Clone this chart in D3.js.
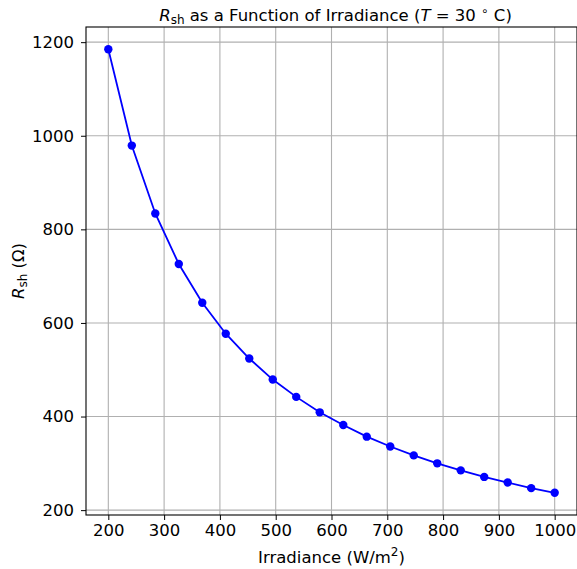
<!DOCTYPE html>
<html>
<head>
<meta charset="utf-8">
<script src="https://cdn.jsdelivr.net/npm/d3@7"></script>
<style>
  body { margin: 0; background: #fff; }
  svg { font-family: "DejaVu Sans", sans-serif; }
</style>
</head>
<body>
<svg id="chart" width="577" height="569"></svg>
<script>
// irradiance (W/m^2) and shunt resistance (ohm)
var irradiance = [200, 242.1, 284.2, 326.3, 368.4, 410.5, 452.6, 494.7, 536.8, 578.9,
                  621.1, 663.2, 705.3, 747.4, 789.5, 831.6, 873.7, 915.8, 957.9, 1000];
var rsh = [1185, 979, 834, 726, 643, 577, 524, 479, 442, 409,
           382, 357, 336, 317, 300, 285, 271, 259, 247, 237];
var xTicks = [200, 300, 400, 500, 600, 700, 800, 900, 1000];
var yTicks = [200, 400, 600, 800, 1000, 1200];

var data = irradiance.map(function (g, i) { return { x: g, y: rsh[i] }; });

var fs = 16.5;
var margin = { top: 27, right: 0, bottom: 54, left: 86 };
var svg = d3.select("#chart");
var W = +svg.attr("width"), H = +svg.attr("height");
var w = W - margin.left - margin.right,
    h = H - margin.top - margin.bottom;

// matplotlib style 5% padding
var xPad = (d3.max(irradiance) - d3.min(irradiance)) * 0.05;
var yPad = (d3.max(rsh) - d3.min(rsh)) * 0.05;
var x = d3.scaleLinear()
    .domain([d3.min(irradiance) - xPad, d3.max(irradiance) + xPad])
    .range([0, w]);
var y = d3.scaleLinear()
    .domain([d3.min(rsh) - yPad, d3.max(rsh) + yPad])
    .range([h, 0]);

var g = svg.append("g").attr("transform", "translate(" + margin.left + "," + margin.top + ")");

// grid
g.append("g").selectAll("line").data(xTicks).enter().append("line")
  .attr("x1", function (d) { return x(d); }).attr("x2", function (d) { return x(d); })
  .attr("y1", 0).attr("y2", h)
  .attr("stroke", "#b0b0b0").attr("stroke-width", 1.1);
g.append("g").selectAll("line").data(yTicks).enter().append("line")
  .attr("y1", function (d) { return y(d); }).attr("y2", function (d) { return y(d); })
  .attr("x1", 0).attr("x2", w)
  .attr("stroke", "#b0b0b0").attr("stroke-width", 1.1);

// axes
var xAxis = g.append("g")
  .attr("transform", "translate(0," + h + ")")
  .call(d3.axisBottom(x).tickValues(xTicks).tickSize(5).tickPadding(4).tickFormat(d3.format("d")));
var yAxis = g.append("g")
  .call(d3.axisLeft(y).tickValues(yTicks).tickSize(5).tickPadding(7).tickFormat(d3.format("d")));
[xAxis, yAxis].forEach(function (a) {
  a.select(".domain").remove();
  a.selectAll("text").attr("font-size", fs).attr("fill", "#000")
    .attr("font-family", "DejaVu Sans, sans-serif");
  a.selectAll("line").attr("stroke", "#000").attr("stroke-width", 1);
});

// frame
g.append("rect").attr("width", w).attr("height", h)
  .attr("fill", "none").attr("stroke", "#000").attr("stroke-width", 1.1);

// line + markers
var line = d3.line().x(function (d) { return x(d.x); }).y(function (d) { return y(d.y); });
g.append("path").datum(data)
  .attr("d", line).attr("fill", "none")
  .attr("stroke", "#0000ff").attr("stroke-width", 1.8);
g.append("g").selectAll("circle").data(data).enter().append("circle")
  .attr("cx", function (d) { return x(d.x); })
  .attr("cy", function (d) { return y(d.y); })
  .attr("r", 4.2).attr("fill", "#0000ff");

// title
var title = svg.append("text")
  .attr("x", margin.left + w / 2 + 4).attr("y", 21)
  .attr("text-anchor", "middle").attr("font-size", fs);
title.append("tspan").attr("font-style", "italic").text("R");
title.append("tspan").attr("font-size", 12).attr("dy", 3).text("sh");
title.append("tspan").attr("dy", -3).text(" as a Function of Irradiance (");
title.append("tspan").attr("font-style", "italic").text("T");
title.append("tspan").text(" = 30 ");
title.append("tspan").attr("font-size", 12).attr("dy", -6).text("\u2218");
title.append("tspan").attr("dy", 6).text(" C)");

// x label
var xl = svg.append("text")
  .attr("x", margin.left + w / 2).attr("y", 563)
  .attr("text-anchor", "middle").attr("font-size", fs);
xl.append("tspan").text("Irradiance (W/m");
xl.append("tspan").attr("font-size", 12).attr("dy", -7).text("2");
xl.append("tspan").attr("dy", 7).text(")");

// y label
var yl = svg.append("text")
  .attr("transform", "translate(24," + (margin.top + h / 2) + ") rotate(-90)")
  .attr("text-anchor", "middle").attr("font-size", fs);
yl.append("tspan").attr("font-style", "italic").text("R");
yl.append("tspan").attr("font-size", 12).attr("dy", 3).text("sh");
yl.append("tspan").attr("dy", -3).text(" (\u03a9)");
</script>
</body>
</html>
